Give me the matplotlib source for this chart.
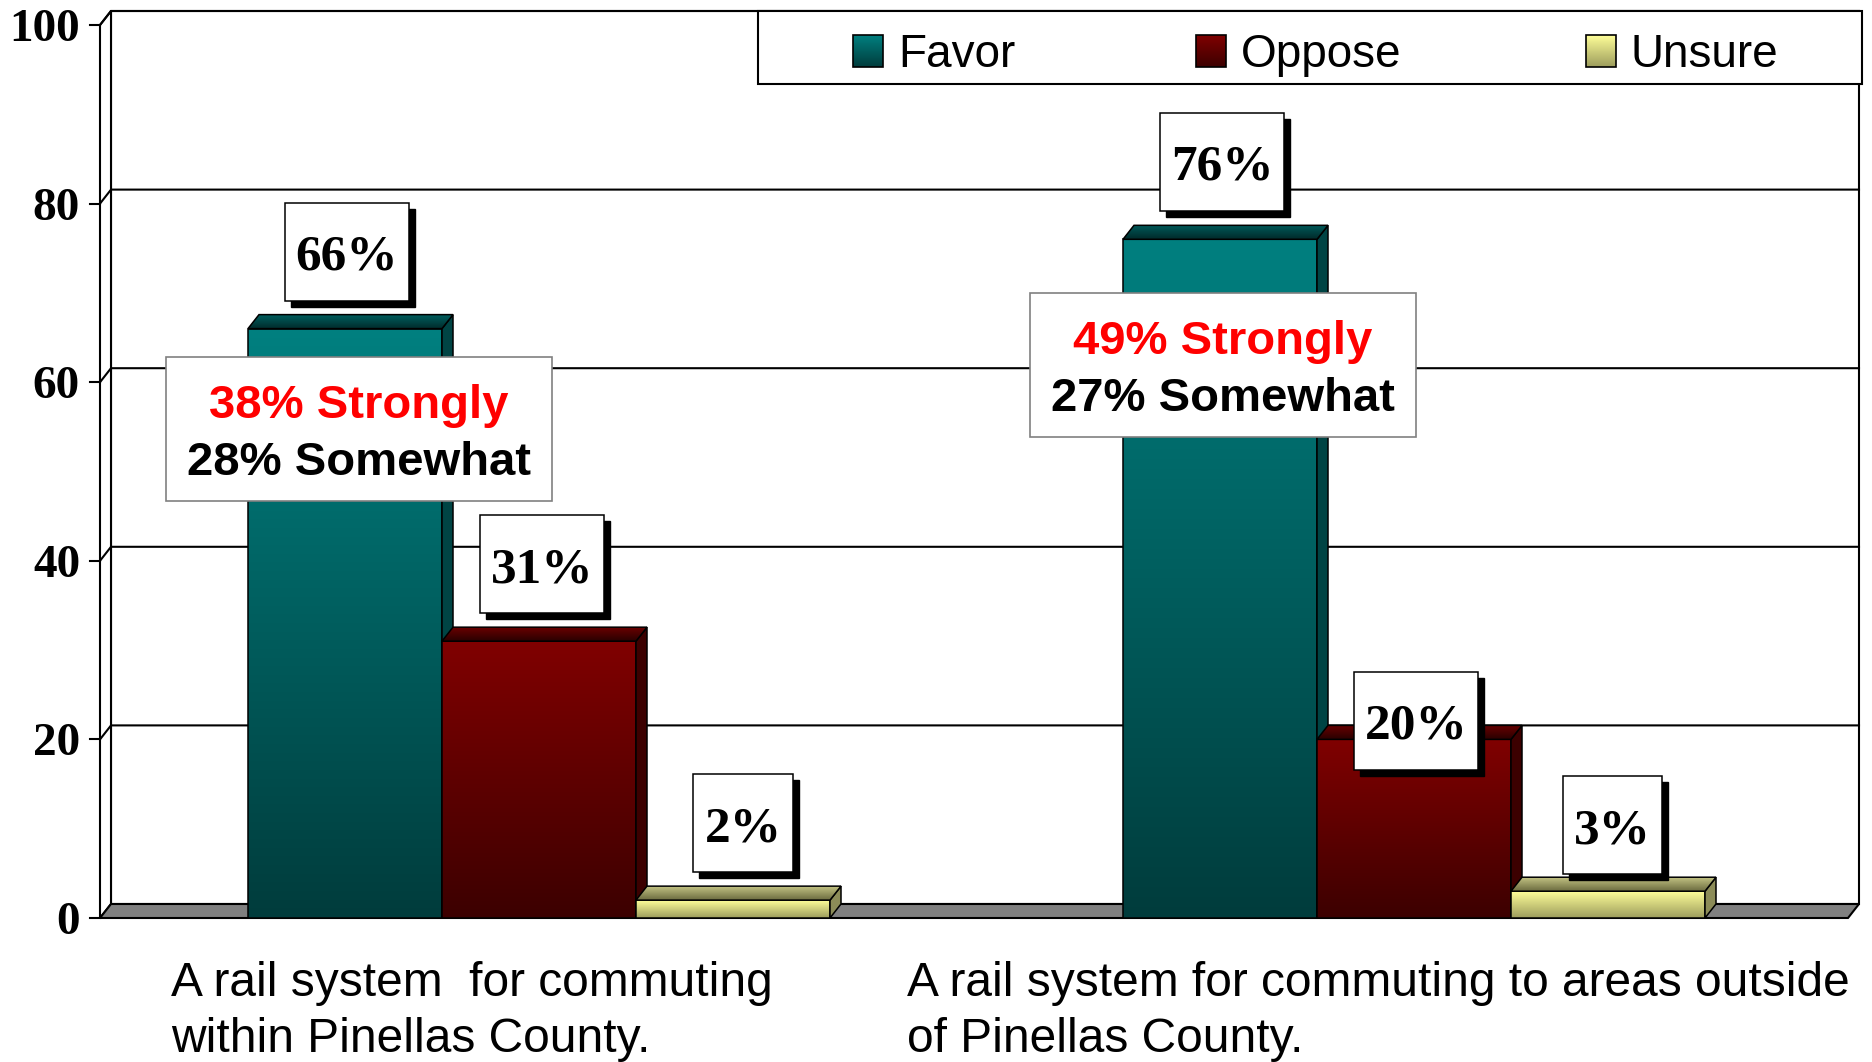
import matplotlib
matplotlib.use("Agg")
import matplotlib.pyplot as plt
import matplotlib.patches as mpatches
from matplotlib.colors import to_rgb
from matplotlib.transforms import offset_copy
import numpy as np

# data
categories = ["A rail system  for commuting\nwithin Pinellas County.",
              "A rail system for commuting to areas outside\nof Pinellas County."]
series = ["Favor", "Oppose", "Unsure"]
favor = [66, 76]
oppose = [31, 20]
unsure = [2, 3]
strongly = [38, 49]
somewhat = [28, 27]
yticks = [0, 20, 40, 60, 80, 100]

# colours per series: front top, front bottom, top face back, top face front, side
colors = {
    "Favor": ("#008080", "#003c3c", "#005e5e", "#002a2a", "#004444"),
    "Oppose": ("#800000", "#3c0000", "#6a0000", "#2a0000", "#3c0000"),
    "Unsure": ("#ffff99", "#9c9c5c", "#c4c484", "#6c6c40", "#8c8c58"),
}

W, H = 1872, 1062
X0, X1 = 100, 1848      # front plane in pixels
Y0, Y100 = 918, 25
ppx = (X1 - X0) / 2.0
ppy = (Y0 - Y100) / 100.0
DX, DY = 11 / ppx, 14 / ppy   # depth of the fake 3d
BW = 194 / ppx

SERIF = "Liberation Serif"
SANS = "Liberation Sans"


def P(px, py):
    # picture pixel -> data coords
    return (px - X0) / ppx, (Y0 - py) / ppy


def grad(c1, c2, n=256):
    a = np.array(to_rgb(c1))
    b = np.array(to_rgb(c2))
    t = np.linspace(0, 1, n)[:, None]
    return (a + (b - a) * t)[:, None, :]


fig = plt.figure(figsize=(W / 100, H / 100), dpi=100)
ax = fig.add_axes([X0 / W, 1 - Y0 / H, (X1 - X0) / W, (Y0 - Y100) / H])
ax.axis("off")
renderer = fig.canvas.get_renderer()

# walls and floor
ax.add_patch(mpatches.Rectangle((DX, DY), 2, 100, fc="white", ec="black", lw=1.5, zorder=0, clip_on=False))
ax.add_patch(mpatches.Polygon([(0, 0), (DX, DY), (DX, 100 + DY), (0, 100)], fc="white", ec="black",
                              lw=1.5, zorder=0.5, clip_on=False))
for v in yticks[1:]:
    ax.plot([0, DX, 2 + DX], [v, v + DY, v + DY], color="black", lw=1.5, zorder=1, clip_on=False)
ax.add_patch(mpatches.Polygon([(0, 0), (2, 0), (2 + DX, DY), (DX, DY)], fc="#808080", ec="black",
                              lw=1.5, zorder=2, clip_on=False))

# y ticks
for v in yticks:
    ax.plot([-10 / ppx, 0], [v, v], color="black", lw=1.5, zorder=2, clip_on=False)
    ax.text(-20 / ppx, v, str(v), ha="right", va="baseline", fontsize=34, fontweight="bold", family=SERIF,
            transform=offset_copy(ax.transData, fig, y=-16, units="dots"))

# bars
groups = [favor, oppose, unsure]
centers = [0.5 + 2 / ppx, 1.5 + 3 / ppx]
lift = [[8.6, 8.6, 8.6], [8.7, 2.1, 7.4]]
shift = [[2, 3, 10], [2, 2, 4]]   # label nudge, pixels
for g, c in enumerate(centers):
    for i, name in enumerate(series):
        v = groups[i][g]
        ft, fb, tb, tf, sd = colors[name]
        l = c + (i - 1.5) * BW
        r = l + BW
        z = 3 + g * 3 + i
        ax.imshow(grad(ft, fb), extent=[l, r, 0, v], aspect="auto", zorder=z, interpolation="bilinear")
        ax.add_patch(mpatches.Rectangle((l, 0), BW, v, fill=False, ec="black", lw=1.1, zorder=z + 0.1))
        ax.add_patch(mpatches.Polygon([(r, 0), (r + DX, DY), (r + DX, v + DY), (r, v)], fc=sd, ec="black",
                                      lw=1.1, zorder=z + 0.1))
        top = mpatches.Polygon([(l, v), (r, v), (r + DX, v + DY), (l + DX, v + DY)], fill=False,
                               ec="black", lw=1.1, zorder=z + 0.2)
        ax.add_patch(top)
        im = ax.imshow(grad(tb, tf), extent=[l, r + DX, v, v + DY], aspect="auto", zorder=z + 0.15,
                       interpolation="bilinear")
        im.set_clip_path(top)

        # value label with drop shadow
        tx = (l + r) / 2 + shift[g][i] / ppx
        ty = v + lift[g][i]
        t = ax.text(tx, ty, f"{v}%", ha="center", va="baseline", fontsize=37, fontweight="bold", family=SERIF,
                    zorder=21, transform=offset_copy(ax.transData, fig, y=-18, units="dots"))
        tw = t.get_window_extent(renderer).width
        bw, bh = (tw + 22) / ppx, 98 / ppy
        ax.add_patch(mpatches.Rectangle((tx - bw / 2 + 6 / ppx, ty - bh / 2 - 6 / ppy), bw, bh, fc="black",
                                        ec="black", lw=1, zorder=19, clip_on=False))
        ax.add_patch(mpatches.Rectangle((tx - bw / 2, ty - bh / 2), bw, bh, fc="white", ec="black", lw=1.1,
                                        zorder=20, clip_on=False))

# strongly / somewhat notes
note_box = [(359, 357), (1223, 293)]  # centre x, top y in pixels
for g in range(2):
    cx, top = note_box[g]
    x, y = P(cx - 193, top + 144)
    ax.add_patch(mpatches.Rectangle((x, y), 386 / ppx, 144 / ppy, fc="white", ec="#808080", lw=1.2,
                                    zorder=15, clip_on=False))
    ax.text(*P(cx, top + 61), f"{strongly[g]}% Strongly", color="#ff0000", ha="center", va="baseline",
            fontsize=34, fontweight="bold", family=SANS, zorder=16)
    ax.text(*P(cx, top + 118), f"{somewhat[g]}% Somewhat", color="black", ha="center", va="baseline",
            fontsize=34, fontweight="bold", family=SANS, zorder=16)

# legend
x, y = P(758, 84)
ax.add_patch(mpatches.Rectangle((x, y), (1862 - 758) / ppx, (84 - 11) / ppy, fc="white", ec="black",
                                lw=1.5, zorder=22, clip_on=False))
legend_x = [853, 1196, 1586]
for i, name in enumerate(series):
    mx = legend_x[i]
    a, b = P(mx, 67)
    c2, d = P(mx + 30, 35)
    im = ax.imshow(grad(colors[name][0], colors[name][1]), extent=[a, c2, b, d], aspect="auto", zorder=23,
                   interpolation="bilinear")
    im.set_clip_on(False)
    ax.add_patch(mpatches.Rectangle((a, b), c2 - a, d - b, fill=False, ec="black", lw=1.2, zorder=24,
                                    clip_on=False))
    ax.text(*P(mx + 45, 67), name, fontsize=33, ha="left", va="baseline", family=SANS, zorder=24)

# category labels
cat_x = [171, 907]
for k, lab in enumerate(categories):
    ax.text(*P(cat_x[k], 961), lab, ha="left", va="top", fontsize=34.5, linespacing=1.3, family=SANS,
            clip_on=False)

ax.set_xlim(0, 2)
ax.set_ylim(0, 100)
fig.savefig("out.png", dpi=100)
